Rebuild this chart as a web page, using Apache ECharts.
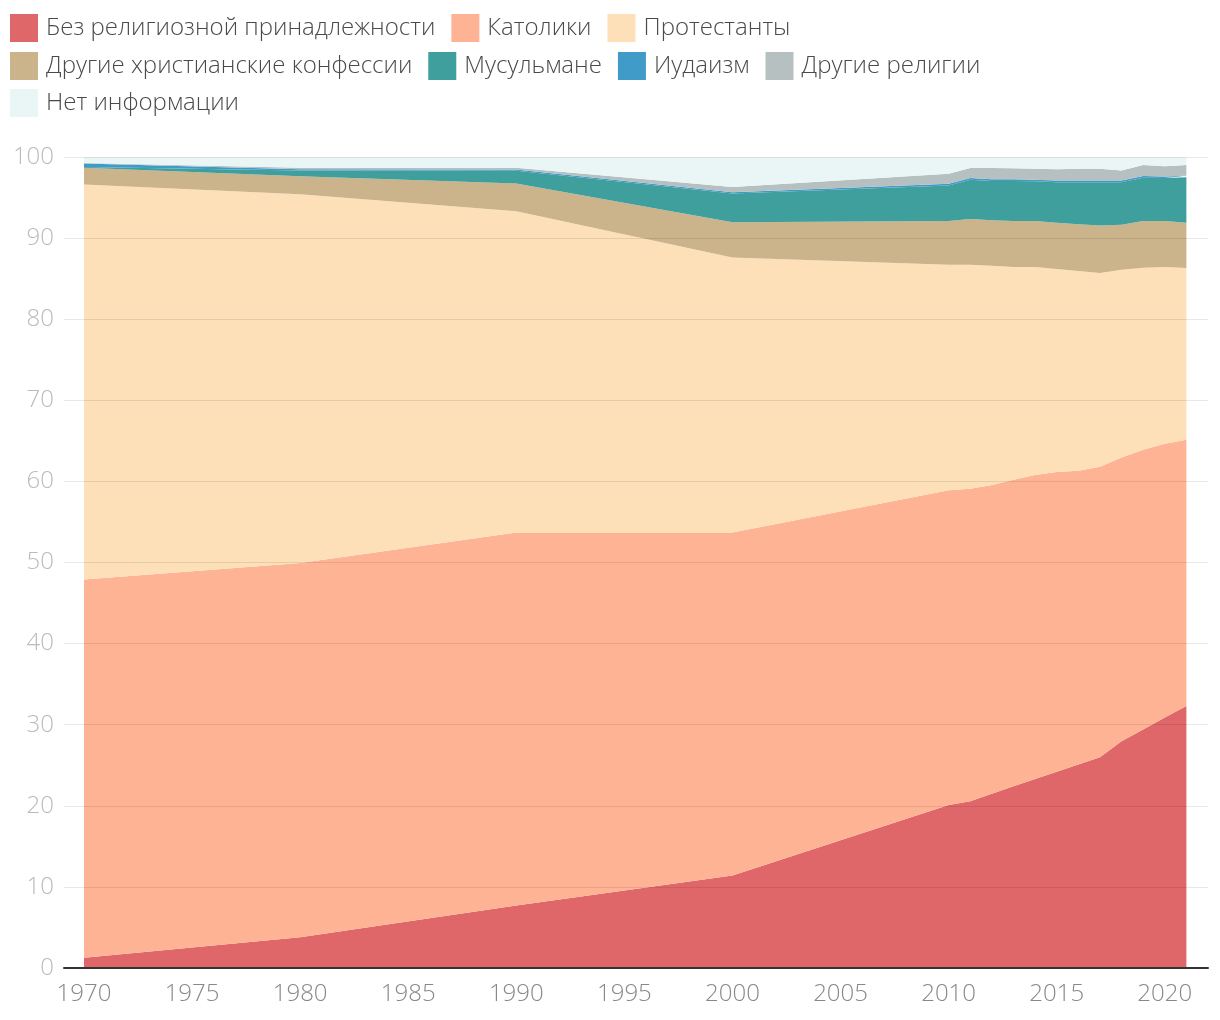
<!DOCTYPE html>
<html>
<head>
<meta charset="utf-8">
<script src="https://cdn.jsdelivr.net/npm/echarts@6/dist/echarts.min.js"></script>
<style>html,body{margin:0;padding:0;background:#fff;}#c{width:1220px;height:1020px;}</style>
</head>
<body>
<div id="c"></div>
<script>
const years = [1970,1980,1990,2000,2010,2011,2012,2013,2014,2015,2016,2017,2018,2019,2020,2021];
const noneRel = [1.25,3.8,7.7,11.4,20.1,20.55,21.5,22.4,23.3,24.2,25.1,26.0,27.95,29.4,30.9,32.3];
const catholic = [46.65,46.15,46.0,42.3,38.8,38.55,38.05,37.8,37.5,36.95,36.2,35.8,35.0,34.5,33.75,32.85];
const protestant = [48.7,45.45,39.6,33.9,27.8,27.6,27.05,26.25,25.65,25.05,24.65,23.9,23.15,22.45,21.8,21.15];
const otherChristian = [2.06,2.22,3.42,4.35,5.4,5.65,5.6,5.65,5.65,5.7,5.75,5.85,5.55,5.75,5.65,5.6];
const muslim = [0.12,0.7,1.57,3.54,4.4,4.85,4.85,4.95,4.9,5.0,5.2,5.35,5.25,5.35,5.3,5.6];
const jewish = [0.41,0.16,0.16,0.16,0.2,0.2,0.2,0.2,0.2,0.2,0.2,0.2,0.2,0.2,0.2,0.2];
const otherRel = [0.08,0.18,0.21,0.66,1.25,1.25,1.4,1.35,1.35,1.4,1.45,1.45,1.25,1.35,1.25,1.3];
const noInfo = [0.73,1.34,1.34,3.69,2.05,1.35,1.35,1.4,1.45,1.5,1.45,1.45,1.65,1.0,1.15,1.0];

const names = ['Без религиозной принадлежности','Католики','Протестанты','Другие христианские конфессии','Мусульмане','Иудаизм','Другие религии','Нет информации'];
const colors = ['#df6769','#feb395','#fde0b8','#cbb38b','#3f9f9c','#419bc9','#b6c0c1','#eaf6f6'];
const seriesValues = [noneRel,catholic,protestant,otherChristian,muslim,jewish,otherRel,noInfo];
const xTicks = [1970,1975,1980,1985,1990,1995,2000,2005,2010,2015,2020];

const FONT = '"Open Sans", "Noto Sans", sans-serif';

const legendRow = (top, data) => ({
  left: 10, top: top, padding: 0,
  itemWidth: 28, itemHeight: 28, itemGap: 16,
  icon: 'rect', selectedMode: false,
  textStyle: {fontSize: 24, color: '#4a4a4a', fontFamily: FONT, fontWeight: 300, padding: [0, 0, 0, 3]},
  data: data
});

const chart = echarts.init(document.getElementById('c'), null, {renderer:'canvas'});
chart.setOption({
  animation: false,
  textStyle: {fontFamily: FONT},
  legend: [
    legendRow(14, names.slice(0, 3)),
    legendRow(52, names.slice(3, 7)),
    legendRow(89, names.slice(7))
  ],
  grid: {left: 64, right: 12, top: 157, bottom: 52, containLabel: false},
  xAxis: {
    type: 'value', min: 1969.075, max: 2022, z: 5,
    axisLine: {show: true, onZero: false, lineStyle: {color: '#333', width: 2}},
    axisTick: {show: false},
    splitLine: {show: false},
    axisLabel: {customValues: xTicks, color: '#888', fontSize: 24, fontFamily: FONT, fontWeight: 300, margin: 14,
      formatter: v => String(v)}
  },
  yAxis: {
    type: 'value', min: 0, max: 100, interval: 10, z: 4,
    axisLine: {show: false}, axisTick: {show: false},
    splitLine: {lineStyle: {color: 'rgba(0,0,0,0.09)', width: 1}},
    axisLabel: {color: '#bbb', fontSize: 24, fontFamily: FONT, fontWeight: 300, margin: 10}
  },
  series: names.map((n, i) => ({
    name: n, type: 'line', stack: 'total',
    // value first so that the stacked dimension is the y value
    data: years.map((y, j) => [seriesValues[i][j], y]),
    encode: {x: 1, y: 0},
    showSymbol: false, symbol: 'none',
    lineStyle: {width: 0, opacity: 0},
    areaStyle: {color: colors[i], opacity: 1},
    itemStyle: {color: colors[i]},
    emphasis: {disabled: true}
  }))
});
</script>
</body>
</html>
